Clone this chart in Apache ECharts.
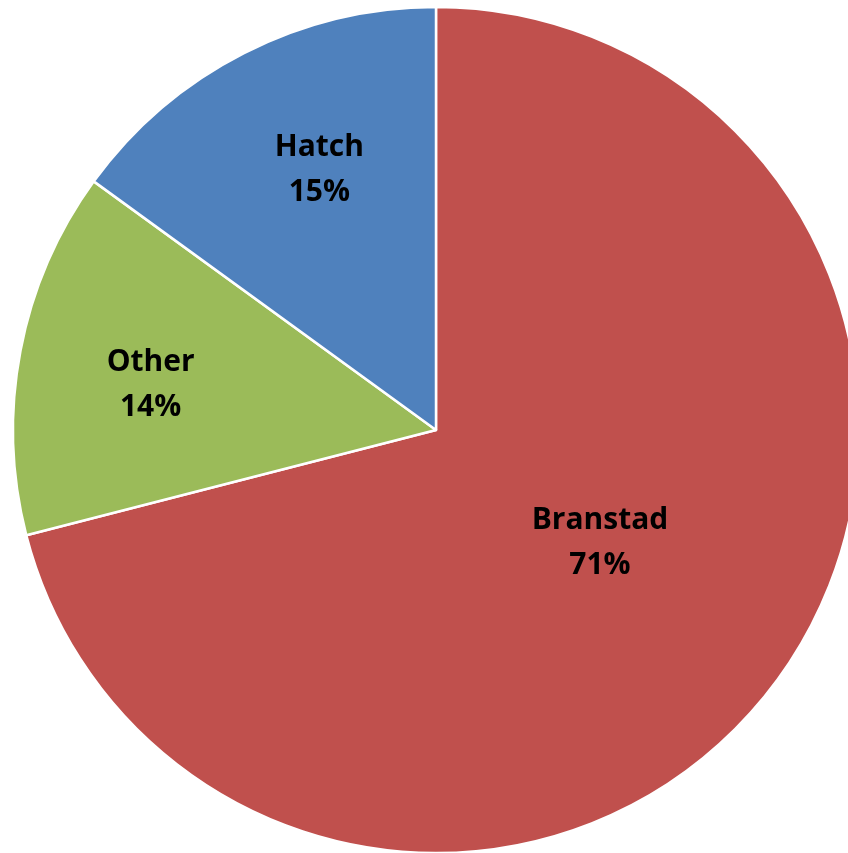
<!DOCTYPE html>
<html>
<head>
<meta charset="utf-8">
<script src="https://cdn.jsdelivr.net/npm/echarts@6/dist/echarts.min.js"></script>
<style>
  html, body { margin: 0; padding: 0; background: #ffffff; }
  #chart { width: 848px; height: 853px; }
</style>
</head>
<body>
<div id="chart"></div>
<script>
// Vote share by candidate
const candidates = ['Branstad', 'Other', 'Hatch'];
const shares = [71, 14, 15];
const sliceColors = ['#C0504D', '#9BBB59', '#4F81BD'];
// Label placement inside each slice: fraction of the radius, and a small
// angular nudge (degrees) away from the slice's middle
const labelRadiusFraction = [0.467, 0.684, 0.681];
const labelAngleNudge = [-3.9, -1.3, 3.1];

const cx = 436, cy = 430, R = 423;
const startAngle = 90;

const total = shares.reduce((a, b) => a + b, 0);

// mid angle of each slice, measured clockwise from 12 o'clock
const midAngles = [];
let acc = 0;
shares.forEach(v => {
  midAngles.push((acc + v / 2) / total * 360);
  acc += v;
});

const chart = echarts.init(document.getElementById('chart'), null, { renderer: 'canvas' });
chart.setOption({
  backgroundColor: '#ffffff',
  animation: false,
  series: [{
    type: 'pie',
    center: [cx, cy],
    radius: [0, R],
    startAngle: startAngle,
    clockwise: true,
    avoidLabelOverlap: false,
    data: candidates.map((name, i) => ({
      name: name,
      value: shares[i],
      itemStyle: { color: sliceColors[i] }
    })),
    itemStyle: { borderColor: '#ffffff', borderWidth: 2.5 },
    label: {
      show: true,
      position: 'inside',
      formatter: '{b}\n{c}%',
      fontFamily: '"Open Sans", Lato, sans-serif',
      fontWeight: 'bold',
      fontSize: 30,
      lineHeight: 45,
      color: '#000000',
      align: 'center'
    },
    labelLine: { show: false },
    labelLayout: function (params) {
      const i = params.dataIndex;
      const a = (midAngles[i] + labelAngleNudge[i]) * Math.PI / 180;
      const r = R * labelRadiusFraction[i];
      return {
        x: cx + r * Math.sin(a),
        // Open Sans sits a little high in its line box
        y: cy - r * Math.cos(a) + 3,
        align: 'center',
        verticalAlign: 'middle'
      };
    },
    emphasis: { disabled: true }
  }]
});
</script>
</body>
</html>
